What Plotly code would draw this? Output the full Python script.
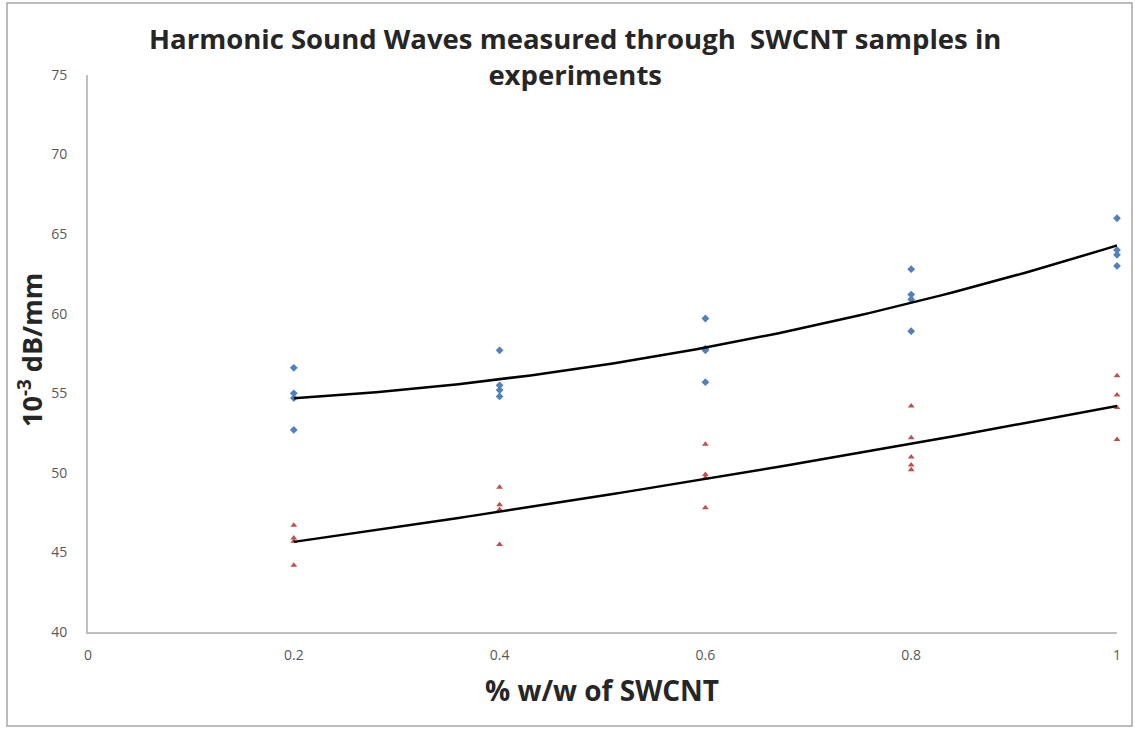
import numpy as np
import plotly.graph_objects as go

# ---- data ----
x_blue = [0.2, 0.2, 0.2, 0.2,
          0.4, 0.4, 0.4, 0.4,
          0.6, 0.6, 0.6, 0.6,
          0.8, 0.8, 0.8, 0.8,
          1.0, 1.0, 1.0, 1.0]
y_blue = [56.6, 55.0, 54.7, 52.7,
          57.7, 55.5, 55.2, 54.8,
          59.7, 57.8, 57.7, 55.7,
          62.8, 61.2, 60.9, 58.9,
          66.0, 64.0, 63.7, 63.0]

x_red = [0.2, 0.2, 0.2, 0.2,
         0.4, 0.4, 0.4, 0.4,
         0.6, 0.6, 0.6, 0.6,
         0.8, 0.8, 0.8, 0.8, 0.8,
         1.0, 1.0, 1.0, 1.0]
y_red = [46.7, 45.9, 45.7, 44.2,
         49.1, 48.0, 47.7, 45.5,
         51.8, 49.9, 49.7, 47.8,
         54.2, 52.2, 51.0, 50.5, 50.2,
         56.1, 54.9, 54.1, 52.1]

x_ticks = [0, 0.2, 0.4, 0.6, 0.8, 1]
x_tick_labels = ["0", "0.2", "0.4", "0.6", "0.8", "1"]
y_ticks = [40, 45, 50, 55, 60, 65, 70, 75]

title_text = "Harmonic Sound Waves measured through  SWCNT samples in<br>experiments"
x_title = "% w/w of SWCNT"
y_title = "10<sup>-3</sup> dB/mm"

# ---- polynomial (order 2) trendlines fitted to the data ----
xs = np.linspace(0.2, 1.0, 81)
pb = np.polyfit(x_blue, y_blue, 2)
pr = np.polyfit(x_red, y_red, 2)

FONT = "Open Sans"
W, H = 1135, 729
L, R, T, B = 88, 1117, 75, 632

fig = go.Figure()
fig.add_trace(go.Scatter(x=x_blue, y=y_blue, mode="markers",
                         marker=dict(symbol="diamond", size=6, color="#4F81BD"),
                         cliponaxis=False, showlegend=False))
fig.add_trace(go.Scatter(x=x_red, y=y_red, mode="markers",
                         marker=dict(symbol="triangle-up", size=6, color="#C0504D"),
                         cliponaxis=False, showlegend=False))
fig.add_trace(go.Scatter(x=xs, y=np.polyval(pb, xs), mode="lines",
                         line=dict(color="#000000", width=2.5),
                         cliponaxis=False, showlegend=False))
fig.add_trace(go.Scatter(x=xs, y=np.polyval(pr, xs), mode="lines",
                         line=dict(color="#000000", width=2.5),
                         cliponaxis=False, showlegend=False))

def px(xp):
    return (xp - L) / (R - L)

def py(yp):
    return (B - yp) / (B - T)

fig.update_layout(
    width=W, height=H,
    margin=dict(l=L, r=W - R, t=T, b=H - B, pad=0),
    paper_bgcolor="white", plot_bgcolor="white",
    font=dict(family=FONT, color="#595959"),
    showlegend=False,
    xaxis=dict(range=[0, 1], tickvals=x_ticks, ticktext=x_tick_labels,
               showgrid=False, zeroline=False, showline=True,
               linecolor="#BFBFBF", linewidth=2,
               ticks="outside", ticklen=9, tickcolor="rgba(0,0,0,0)",
               tickfont=dict(size=14, color="#595959", family=FONT)),
    yaxis=dict(range=[40, 75], tickvals=y_ticks,
               showgrid=False, zeroline=False, showline=True,
               linecolor="#BFBFBF", linewidth=2,
               ticks="outside", ticklen=16, tickcolor="rgba(0,0,0,0)",
               tickfont=dict(size=14, color="#595959", family=FONT)),
    annotations=[
        dict(text=title_text, xref="paper", yref="paper",
             x=px(575), y=py(56), xanchor="center", yanchor="middle",
             showarrow=False,
             font=dict(size=27.5, color="#262626", family=FONT, weight="bold")),
        dict(text=x_title, xref="paper", yref="paper",
             x=px(602), y=py(690), xanchor="center", yanchor="middle",
             showarrow=False,
             font=dict(size=28, color="#262626", family=FONT, weight="bold")),
        dict(text=y_title, xref="paper", yref="paper", textangle=-90,
             x=px(30), y=py(350), xanchor="center", yanchor="middle",
             showarrow=False,
             font=dict(size=27, color="#262626", family=FONT, weight="bold")),
    ],
    shapes=[
        dict(type="rect", xref="paper", yref="paper",
             x0=px(7), x1=px(1132), y0=py(726), y1=py(3),
             line=dict(color="#A6A6A6", width=1.5), fillcolor="rgba(0,0,0,0)",
             layer="below"),
    ],
)

fig.write_html("out.html",
               config={"displayModeBar": False},
               post_script="document.body.style.margin='0';document.body.style.overflow='hidden';")
